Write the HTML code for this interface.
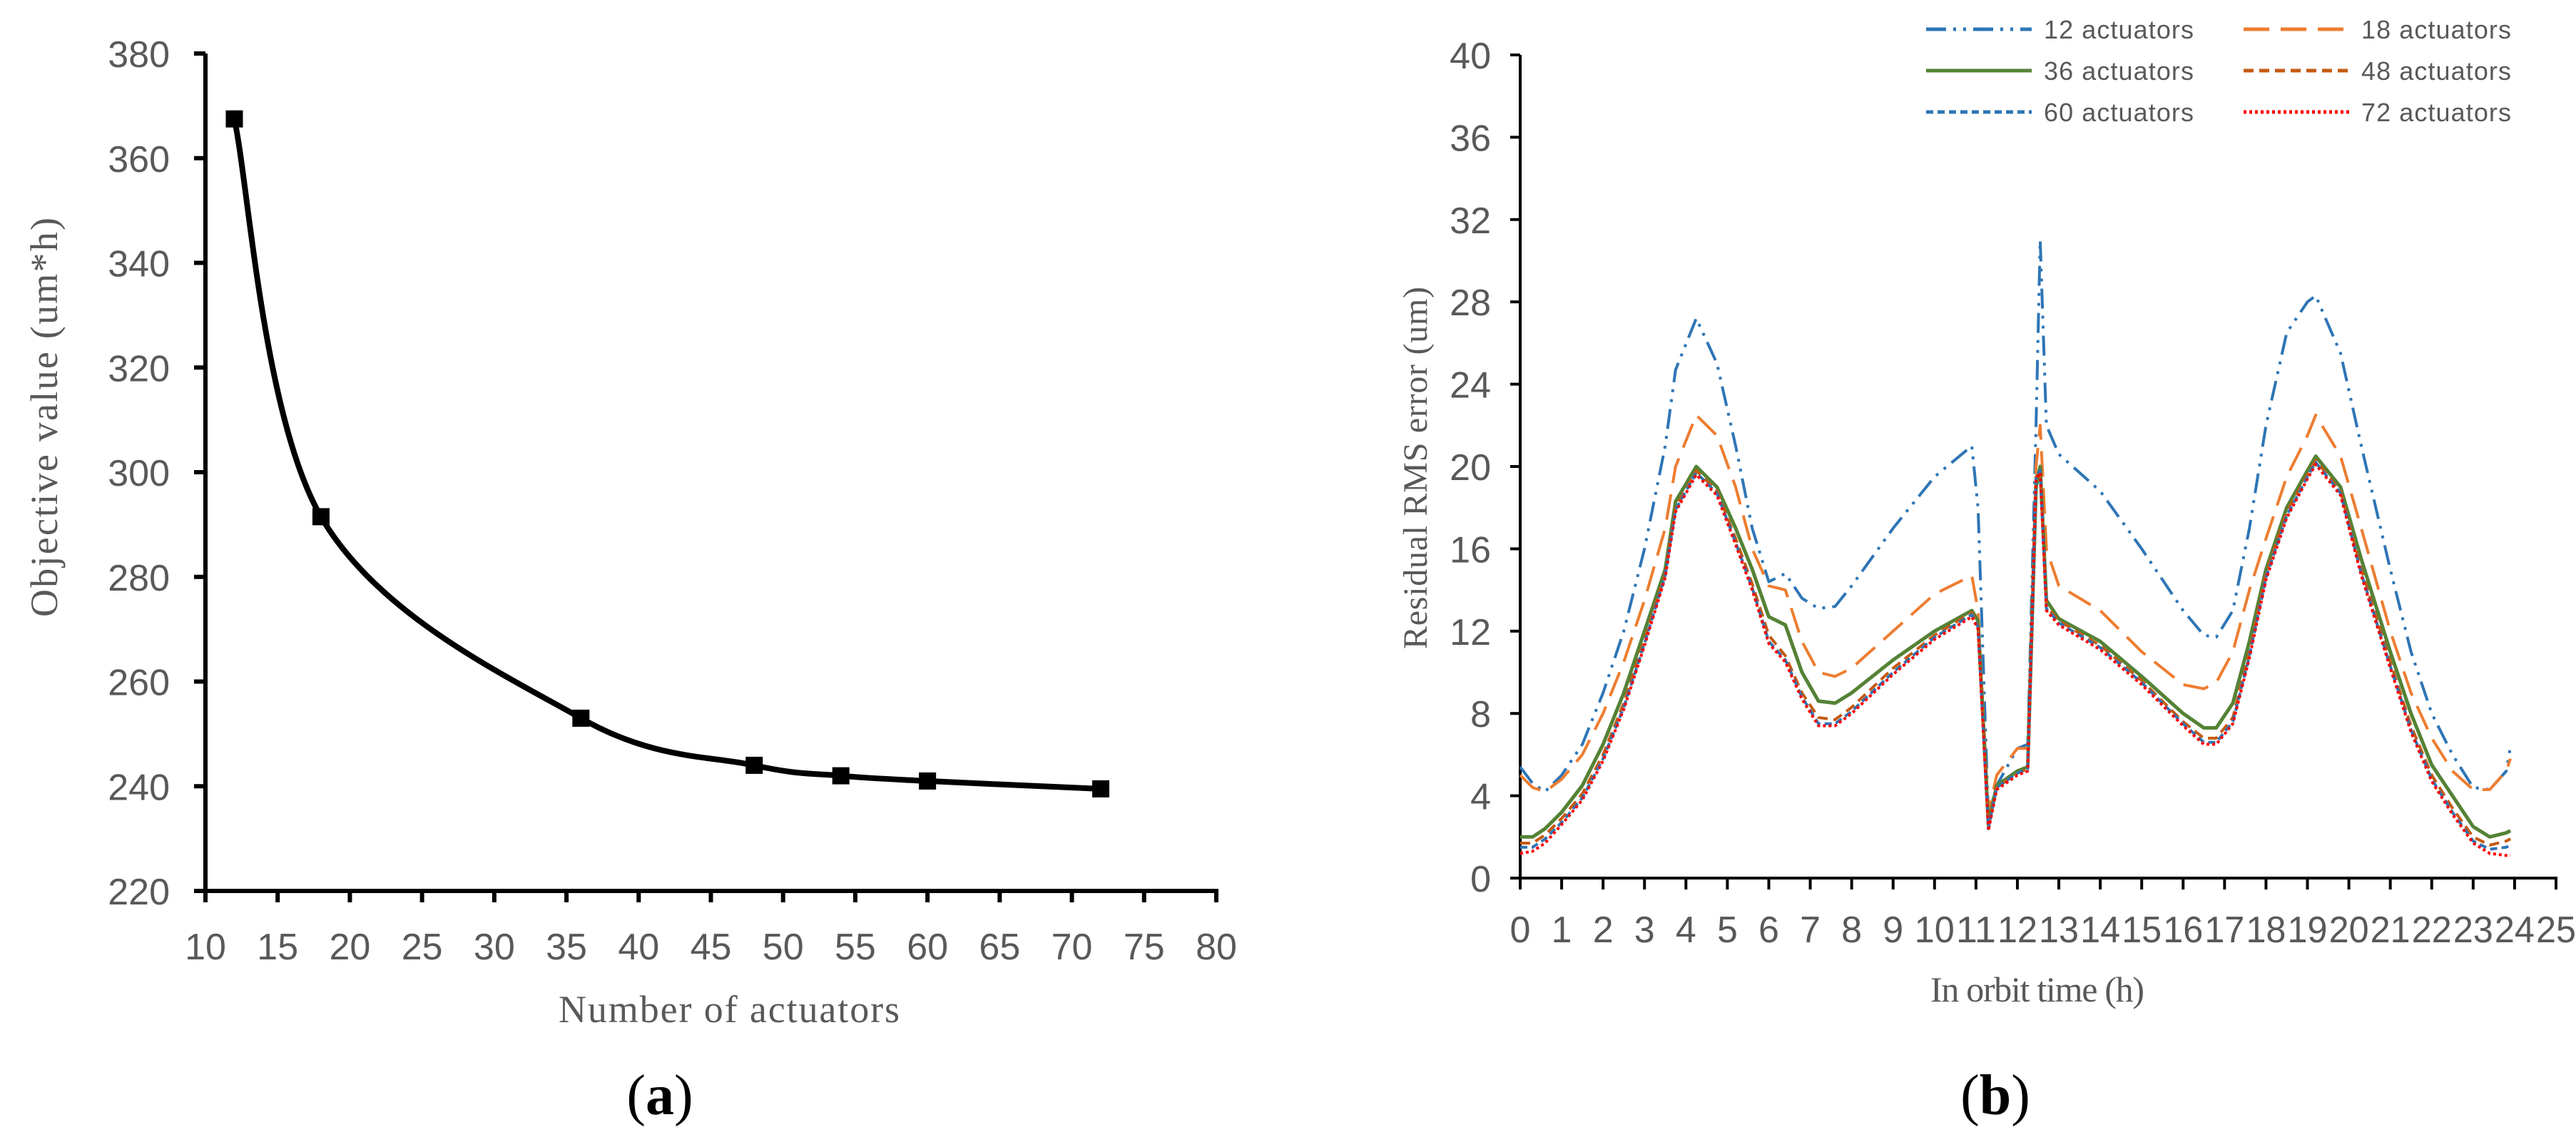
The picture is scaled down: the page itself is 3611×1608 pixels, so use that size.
<!DOCTYPE html>
<html><head><meta charset="utf-8"><style>
html,body{margin:0;padding:0;background:#fff;}
svg{display:block;}
</style></head><body>
<svg id="fig" xmlns="http://www.w3.org/2000/svg" width="3611" height="1608" viewBox="0 0 3611 1608">
<rect x="0" y="0" width="3611" height="1608" fill="#fff"/>
<g id="chartA"></g>
<g id="chartB"></g>
</svg>
<script>
// ---- Chart (a) data ----
const aCategories = [12, 18, 36, 48, 54, 60, 72];
const aValues = [367.5, 291.5, 253, 244, 242, 241, 239.5];
const aXTicks = [10, 15, 20, 25, 30, 35, 40, 45, 50, 55, 60, 65, 70, 75, 80];
const aYTicks = [220, 240, 260, 280, 300, 320, 340, 360, 380];

// ---- Chart (b) data ----
const bTimes = [0,0.3,0.6,1,1.5,2,2.5,3,3.5,3.75,4.25,4.75,5.2,5.6,6,6.4,6.8,7.2,7.6,8,9,10,10.9,11.05,11.3,11.5,12,12.25,12.45,12.55,12.7,13,14,15,16,16.5,16.8,17.2,17.6,18,18.5,19,19.2,19.8,20.3,21,21.5,22,22.5,23,23.4,23.8,23.9];
const s12 = [5.4,4.6,4.2,5,6.5,9,12,16,21,24.7,27.2,25,21,17,14.4,14.8,13.6,13.1,13.2,14.2,17,19.5,21,18,3,4.5,6.3,6.5,22,31,22,20.6,18.8,16,13,11.8,11.7,13,17,22,26.5,28,28.3,25.5,21,15,11,8,6,4.4,4.3,5.2,6.4];
const s18 = [5,4.4,4.2,4.8,6,8,10.5,13.5,17,20,22.5,21.5,19,16,14.2,14,11.5,10,9.8,10.2,12,13.8,14.7,13,3.2,5,6.3,6.3,20,22,16,14.2,13,11,9.4,9.2,9.5,11,14,16.5,19.5,21.5,22.5,20.5,17,12,9,6.8,5.2,4.3,4.3,5.2,5.8];
const s36 = [2,2,2.4,3.2,4.5,6.5,9,12,15,18.3,20,19,17,15,12.7,12.3,10,8.6,8.5,9,10.6,12,13,12.5,2.6,4.5,5.2,5.4,19,20,13.5,12.6,11.5,9.8,8,7.3,7.3,8.5,11.5,15,18,19.8,20.5,19,15.5,11,8,5.5,4,2.5,2,2.2,2.3];
const s48 = [1.7,1.7,2.1,2.9,4.1,6,8.5,11.6,14.8,18,19.8,18.8,16.5,14.3,11.8,10.8,9,7.8,7.7,8.3,10.2,11.8,12.9,12.3,2.5,4.4,5.1,5.3,19.5,19.8,13.2,12.5,11.3,9.6,7.6,6.8,6.8,7.8,11,14.8,17.8,19.6,20.3,18.8,15,10.5,7.4,5,3.4,2,1.6,1.8,1.9];
const s60 = [1.5,1.5,1.9,2.7,3.9,5.8,8.3,11.4,14.7,17.9,19.7,18.7,16.3,14.1,11.5,10.6,8.8,7.5,7.5,8.1,10,11.7,12.8,12.2,2.4,4.4,5.1,5.3,19.5,19.8,13.1,12.4,11.2,9.5,7.5,6.6,6.6,7.6,10.8,14.6,17.6,19.5,20.2,18.7,14.8,10.3,7.2,4.8,3.2,1.8,1.4,1.5,1.6];
const s72 = [1.2,1.3,1.7,2.6,3.8,5.7,8.2,11.3,14.6,17.8,19.6,18.6,16.2,14,11.4,10.5,8.7,7.4,7.4,8,9.9,11.6,12.7,12.1,2.3,4.3,5,5.2,19.4,19.7,13,12.3,11.1,9.4,7.4,6.5,6.5,7.5,10.7,14.5,17.5,19.4,20.1,18.6,14.7,10.2,7.1,4.7,3.1,1.7,1.2,1.1,1.1];
const bSeriesNames = ["12 actuators","18 actuators","36 actuators","48 actuators","60 actuators","72 actuators"];
const bXTicks = [0,1,2,3,4,5,6,7,8,9,10,11,12,13,14,15,16,17,18,19,20,21,22,23,24,25];
const bYTicks = [0,4,8,12,16,20,24,28,32,36,40];

const NS = "http://www.w3.org/2000/svg";
function mk(parent, tag, attrs, text) {
  const e = document.createElementNS(NS, tag);
  for (const k in attrs) e.setAttribute(k, attrs[k]);
  if (text !== undefined) e.textContent = text;
  parent.appendChild(e);
  return e;
}

// ===== Chart (a) =====
const A = document.getElementById('chartA');
const ax = v => 288 + (v - 10) * (1705 - 288) / 70;
const ay = v => 1249 - (v - 220) * (1249 - 75) / 160;
let e;
e = mk(A, 'line', {x1: ax(10), y1: ay(220), x2: ax(10), y2: ay(380), stroke: '#000', 'stroke-width': 6});


e = mk(A, 'line', {x1: ax(10) - 3, y1: ay(220), x2: ax(80) + 3, y2: ay(220), stroke: '#000', 'stroke-width': 6});


aYTicks.forEach(t => {
  e = mk(A, 'line', {x1: ax(10) - 16, y1: ay(t), x2: ax(10), y2: ay(t), stroke: '#000', 'stroke-width': 6});
  
  
  e = mk(A, 'text', {x: 238, y: ay(t) + 19, 'text-anchor': 'end', 'font-family': 'Liberation Sans, sans-serif', 'font-size': 52, fill: '#595959'}, String(t));
  
  
});
aXTicks.forEach(t => {
  e = mk(A, 'line', {x1: ax(t), y1: ay(220), x2: ax(t), y2: ay(220) + 16, stroke: '#000', 'stroke-width': 6});
  
  
  e = mk(A, 'text', {x: ax(t), y: 1345, 'text-anchor': 'middle', 'font-family': 'Liberation Sans, sans-serif', 'font-size': 52, fill: '#595959'}, String(t));
  
  
});
const aPts = aCategories.map((c, i) => [ax(c), ay(aValues[i])]);
function smoothPath(p) {
  let d = 'M' + p[0][0] + ',' + p[0][1];
  for (let i = 0; i < p.length - 1; i++) {
    const p0 = p[i - 1] || p[i], p1 = p[i], p2 = p[i + 1], p3 = p[i + 2] || p2;
    const c1 = [p1[0] + (p2[0] - p0[0]) / 6, p1[1] + (p2[1] - p0[1]) / 6];
    const c2 = [p2[0] - (p3[0] - p1[0]) / 6, p2[1] - (p3[1] - p1[1]) / 6];
    d += ' C' + c1[0] + ',' + c1[1] + ' ' + c2[0] + ',' + c2[1] + ' ' + p2[0] + ',' + p2[1];
  }
  return d;
}
e = mk(A, 'path', {d: smoothPath(aPts), fill: 'none', stroke: '#000', 'stroke-width': 8});


aPts.forEach(p => {
  e = mk(A, 'rect', {x: p[0] - 12, y: p[1] - 12, width: 24, height: 24, fill: '#000'});
  
  
});
e = mk(A, 'text', {x: 0, y: 0, transform: 'translate(80,585) rotate(-90)', 'text-anchor': 'middle', 'font-family': 'Liberation Serif, serif', 'font-size': 54, fill: '#595959', 'xml:space': 'preserve', textLength: 560}, 'Objective  value (um*h)');


e = mk(A, 'text', {x: 1022, y: 1433, 'text-anchor': 'middle', 'font-family': 'Liberation Serif, serif', 'font-size': 54, fill: '#595959', textLength: 478}, 'Number of actuators');


e = mk(A, 'text', {x: 925, y: 1562, 'text-anchor': 'middle', 'font-family': 'Liberation Serif, serif', 'font-size': 80, fill: '#000'}, '(');


e.appendChild(Object.assign(document.createElementNS(NS, 'tspan'), {textContent: 'a'})).setAttribute('font-weight', 'bold');
e.appendChild(document.createTextNode(')'));

// ===== Chart (b) =====
const B = document.getElementById('chartB');
const bx = v => 2131 + v * (3583 - 2131) / 25;
const by = v => 1231 - v * (1231 - 77) / 40;
e = mk(B, 'line', {x1: bx(0), y1: by(0), x2: bx(0), y2: by(40), stroke: '#000', 'stroke-width': 4});


e = mk(B, 'line', {x1: bx(0) - 2, y1: by(0), x2: bx(25) + 2, y2: by(0), stroke: '#000', 'stroke-width': 4});


bYTicks.forEach(t => {
  e = mk(B, 'line', {x1: bx(0) - 14, y1: by(t), x2: bx(0), y2: by(t), stroke: '#000', 'stroke-width': 4});
  
  
  e = mk(B, 'text', {x: 2090, y: by(t) + 19, 'text-anchor': 'end', 'font-family': 'Liberation Sans, sans-serif', 'font-size': 52, fill: '#595959'}, String(t));
  
  
});
bXTicks.forEach(t => {
  e = mk(B, 'line', {x1: bx(t), y1: by(0), x2: bx(t), y2: by(0) + 16, stroke: '#000', 'stroke-width': 4});
  
  
  const attrs = {x: bx(t), y: 1321, 'text-anchor': 'middle', 'font-family': 'Liberation Sans, sans-serif', 'font-size': 52, fill: '#595959'};
  if (t >= 10) { attrs.textLength = 56; attrs.lengthAdjust = 'spacingAndGlyphs'; }
  e = mk(B, 'text', attrs, String(t));
  
  
});
const bSeries = [s12, s18, s36, s48, s60, s72];
const bColors = ['#2e75b6', '#ed7d31', '#548235', '#c55a11', '#2e75b6', '#ff0000'];
const bDash = ['28 10 4 10 4 10', '36 16', '', '14 8', '10 6', '4 4'];
const bWidth = [4, 4, 5, 4, 4, 4];
bSeries.forEach((s, k) => {
  const d = s.map((v, i) => (i ? 'L' : 'M') + bx(bTimes[i]) + ',' + by(v)).join(' ');
  const attrs = {d: d, fill: 'none', stroke: bColors[k], 'stroke-width': bWidth[k], 'stroke-linejoin': 'round'};
  if (bDash[k]) attrs['stroke-dasharray'] = bDash[k];
  e = mk(B, 'path', attrs);
  
  
});
const legX = [2700, 3145], legY = [41, 99, 157];
bSeriesNames.forEach((n, k) => {
  const cx = legX[k % 2], cy = legY[Math.floor(k / 2)];
  const g = mk(B, 'g', {});
  
  
  const attrs = {x1: cx, y1: cy, x2: cx + 148, y2: cy, stroke: bColors[k], 'stroke-width': 5};
  if (bDash[k]) attrs['stroke-dasharray'] = bDash[k];
  e = mk(g, 'line', attrs);
  
  
  e = mk(g, 'text', {x: cx + 165, y: cy + 13, 'font-family': 'Liberation Sans, sans-serif', 'font-size': 36, fill: '#595959', textLength: 210}, n);
  
  
});
e = mk(B, 'text', {x: 0, y: 0, transform: 'translate(2000,656) rotate(-90)', 'text-anchor': 'middle', 'font-family': 'Liberation Serif, serif', 'font-size': 48, fill: '#595959', textLength: 508}, 'Residual RMS error (um)');


e = mk(B, 'text', {x: 2856, y: 1404, 'text-anchor': 'middle', 'font-family': 'Liberation Serif, serif', 'font-size': 50, fill: '#595959', textLength: 300}, 'In orbit time (h)');


e = mk(B, 'text', {x: 2797, y: 1562, 'text-anchor': 'middle', 'font-family': 'Liberation Serif, serif', 'font-size': 80, fill: '#000'}, '(');


e.appendChild(Object.assign(document.createElementNS(NS, 'tspan'), {textContent: 'b'})).setAttribute('font-weight', 'bold');
e.appendChild(document.createTextNode(')'));
</script>
</body></html>
